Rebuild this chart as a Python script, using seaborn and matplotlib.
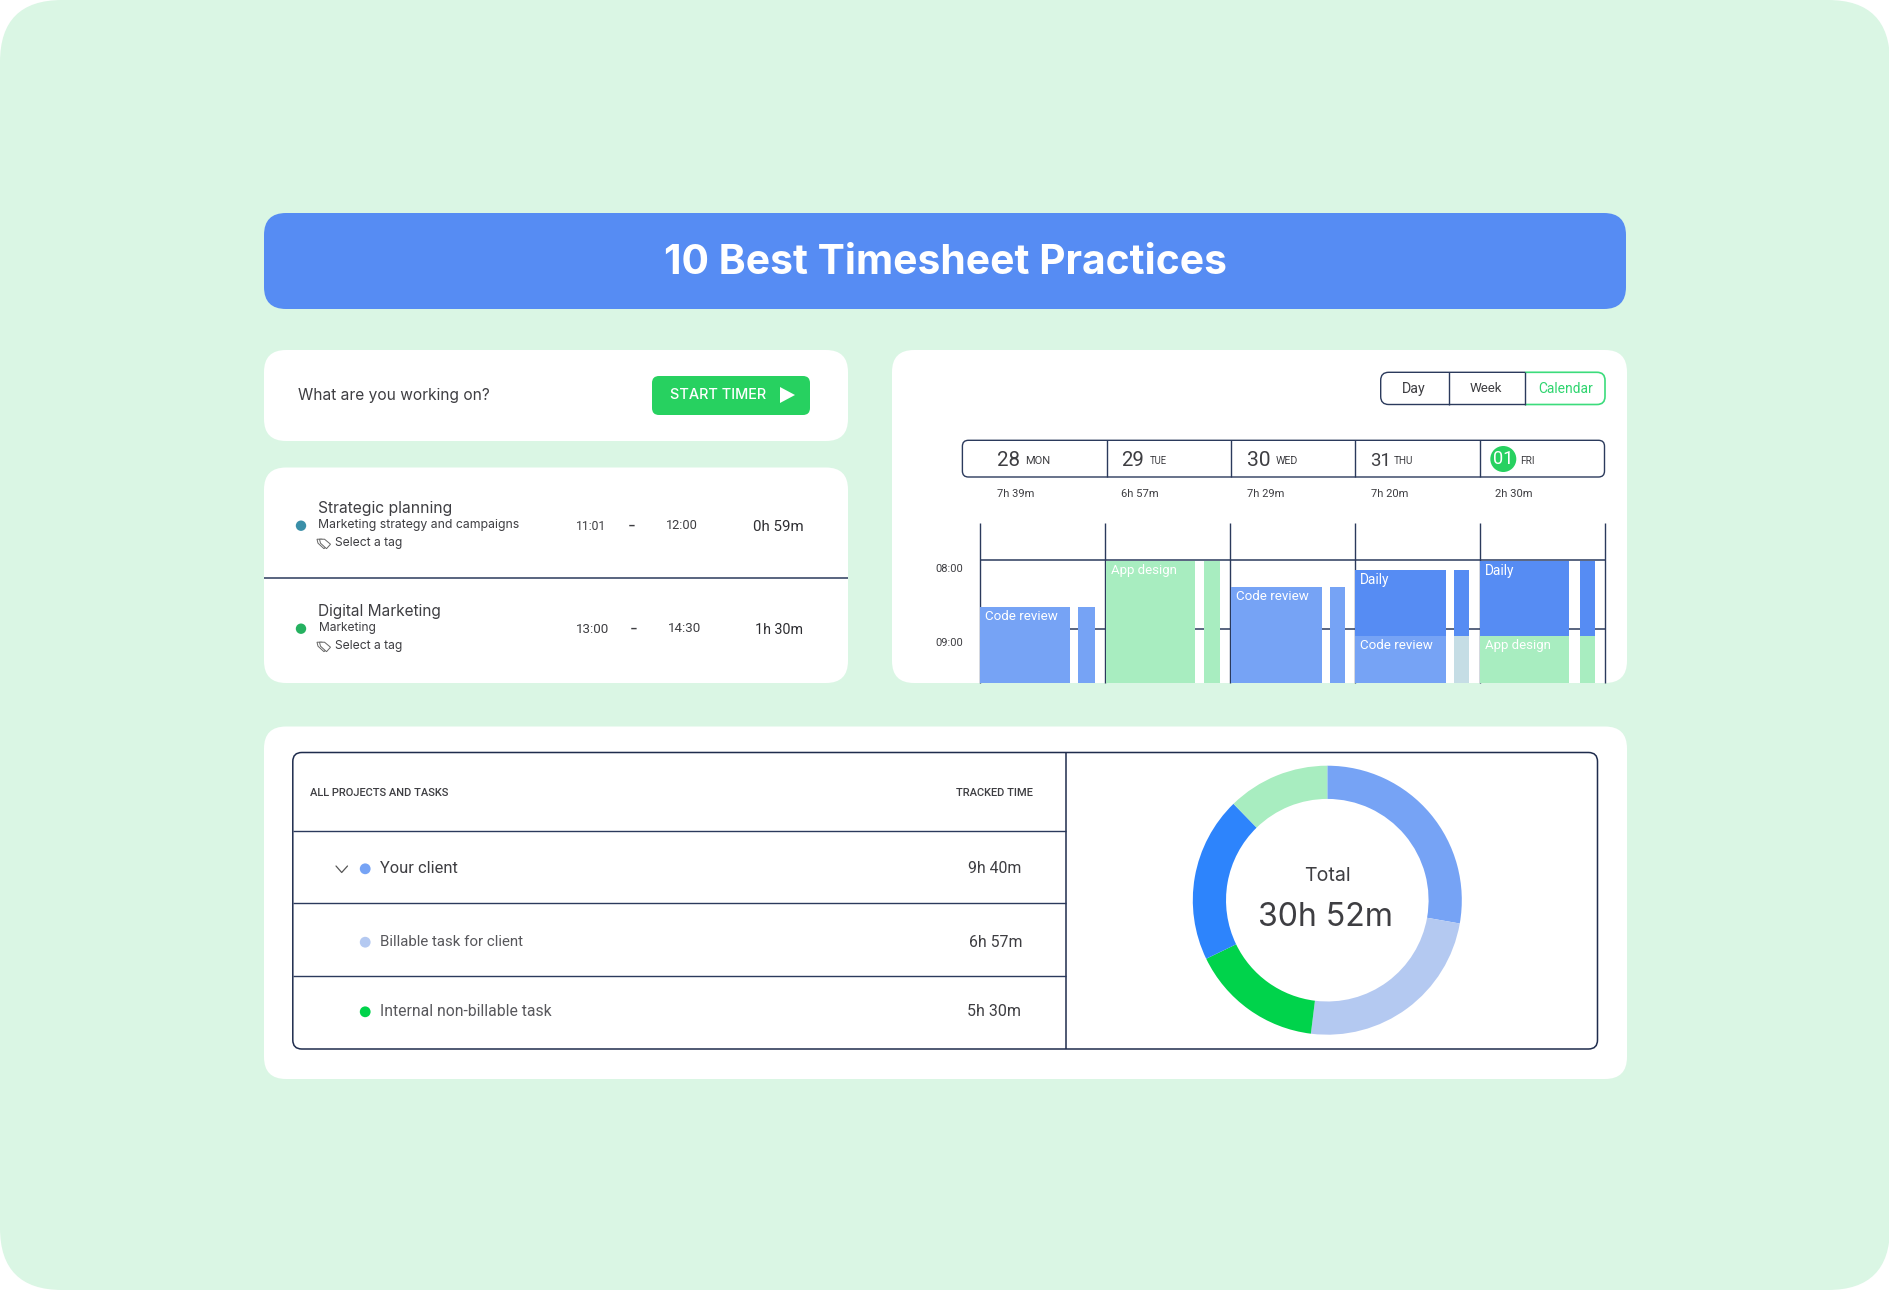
"""Timesheet practices dashboard, rebuilt with seaborn and matplotlib."""

# Imports
import matplotlib
matplotlib.use('Agg')
import matplotlib.pyplot as plt
from matplotlib.font_manager import FontProperties
from matplotlib.patches import Circle, FancyBboxPatch, Polygon, Rectangle
from matplotlib.textpath import TextPath
import seaborn as sns

# Data
TITLE = '10 Best Timesheet Practices'

entry_titles = ['Strategic planning', 'Digital Marketing']
entry_projects = ['Marketing strategy and campaigns', 'Marketing']
entry_starts = ['11:01', '13:00']
entry_ends = ['12:00', '14:30']
entry_totals = ['0h 59m', '1h 30m']

view_tabs = ['Day', 'Week', 'Calendar']
day_numbers = ['28', '29', '30', '31', '01']
day_names = ['MON', 'TUE', 'WED', 'THU', 'FRI']
day_totals = ['7h 39m', '6h 57m', '7h 29m', '7h 20m', '2h 30m']
hour_values = [8, 9]
hour_labels = ['08:00', '09:00']

# Calendar blocks, times in decimal hours (the card cuts them off at 9.78)
block_days = [0, 1, 2, 3, 3, 4, 4]
block_tasks = ['Code review', 'App design', 'Code review', 'Daily',
               'Code review', 'Daily', 'App design']
block_starts = [8.68, 8.01, 8.39, 8.14, 9.10, 8.01, 9.10]
block_ends = [9.78, 9.78, 9.78, 9.10, 9.78, 9.10, 9.78]
block_side_colors = ['#76A3F5', '#A8EDC0', '#76A3F5', '#568CF3',
                     '#C5DDE5', '#568CF3', '#A8EDC0']
task_colors = {'Code review': '#76A3F5', 'App design': '#A8EDC0', 'Daily': '#568CF3'}

# Column layout of the blocks, in fractions of a day column
main_offsets = [0.0, 0.005, 0.005, 0.0, 0.0]
main_widths = [0.72, 0.715, 0.732, 0.73, 0.715]
side_offsets = [0.785, 0.792, 0.804, 0.797, 0.80]
side_widths = [0.135, 0.13, 0.118, 0.12, 0.12]

table_headers = ['ALL PROJECTS AND TASKS', 'TRACKED TIME']
table_rows = ['Your client', 'Billable task for client', 'Internal non-billable task']
table_times = ['9h 40m', '6h 57m', '5h 30m']
table_colors = ['#76A3F5', '#B4C9F1', '#00D34B']

donut_shares = [27.8, 24.2, 15.9, 19.9, 12.3]
donut_colors = ['#76A3F5', '#B4C9F1', '#00D34B', '#2D84FC', '#A8EDC0']
donut_title = 'Total'
donut_total = '30h 52m'

# Environment settings
W, H = 1890, 1290
sns.set_theme(style='white')
plt.rcParams['font.family'] = ['Inter', 'DejaVu Sans']

BG = '#DAF6E4'
BLUE = '#568CF3'
GREEN = '#27D160'
NAVY = '#2B3A5C'
TEXT = '#3E3E42'
NARROW = 'Roboto'


# Functions
def sub_axes(fig, x0, y0, x1, y1):
    ax = fig.add_axes([x0 / W, 1 - y1 / H, (x1 - x0) / W, (y1 - y0) / H])
    ax.patch.set_alpha(0)
    return ax


def rounded(ax, x0, y0, x1, y1, r, fc='white', ec='none', lw=0, clip=None):
    patch = FancyBboxPatch((x0, y0), x1 - x0, y1 - y0,
                           boxstyle=f'round,pad=0,rounding_size={r}',
                           fc=fc, ec=ec, lw=lw)
    ax.add_patch(patch)
    if clip is not None:
        cx0, cx1 = clip
        patch.set_clip_path(Rectangle((cx0, y0 - 5), cx1 - cx0, y1 - y0 + 10,
                                      transform=ax.transData))
    return patch


def fit_size(s, width, weight='normal', family='Inter'):
    # Font size that makes the string about width pixels wide
    prop = FontProperties(family=family, weight=weight)
    ref = TextPath((0, 0), s, size=10, prop=prop).get_extents().width
    return 0.985 * 10 * width / (ref * 100 / 72)


def put(ax, x, y, s, width, color=TEXT, weight='normal', ha='left', family='Inter'):
    ax.text(x, y + 1, s, fontsize=fit_size(s, width, weight, family), color=color,
            weight=weight, ha=ha, va='center', family=[family, 'DejaVu Sans'])


def hline(ax, x0, x1, y, color=NAVY, lw=1.0):
    ax.plot([x0, x1], [y, y], color=color, lw=lw, solid_capstyle='butt')


def vline(ax, x, y0, y1, color=NAVY, lw=1.0):
    ax.plot([x, x], [y0, y1], color=color, lw=lw, solid_capstyle='butt')


def dot(ax, x, y, r, color):
    ax.add_patch(Circle((x, y), r, fc=color, ec='none'))


def tag_icon(ax, x, y):
    for dx in (0, 2.5):
        pts = [(x - 6 + dx, y - 4), (x - 1 + dx, y - 4), (x + 5 + dx, y + 1),
               (x + 1 + dx, y + 5.5), (x - 5 + dx, y)]
        ax.add_patch(Polygon(pts, closed=True, fc='white', ec='#666666', lw=0.7))


# Create figure and pixel space backdrop
fig = plt.figure(figsize=(W / 100, H / 100), dpi=100, facecolor='white')
base = fig.add_axes([0, 0, 1, 1])
base.set_xlim(0, W)
base.set_ylim(H, 0)
base.axis('off')

rounded(base, 0, 0, W, H, 62, fc=BG)
rounded(base, 264, 213, 1626, 309, 22, fc=BLUE)
put(base, 664, 262.5, TITLE, 568, color='white', weight='bold')

# Cards
rounded(base, 264, 350, 848, 441, 22)
rounded(base, 264, 467.5, 848, 683, 22)
rounded(base, 892, 350, 1627, 683, 22)
rounded(base, 264, 726.5, 1627, 1079, 22)

# Timer card
put(base, 298, 394.5, 'What are you working on?', 193)
rounded(base, 652, 376, 810, 415, 7, fc=GREEN)
put(base, 669.5, 394, 'START TIMER', 97, color='white', weight='medium')
base.add_patch(Polygon([(780, 387), (795, 395), (780, 403)], fc='white', ec='none'))

# Time entries
entry_ys = [525.7, 628.7]
entry_dots = ['#3A8FA8', '#25B160']
entry_total_w = [49.7, 46.3]
hline(base, 264, 848, 578, lw=1.1)
for i, y in enumerate(entry_ys):
    dot(base, 301, y, 5.2, entry_dots[i])
    put(base, 317.5, y - 18.5, entry_titles[i], [134, 122.5][i])
    put(base, 318.5, y - 1.5, entry_projects[i], [202, 56][i])
    tag_icon(base, 323, y + 17.5)
    put(base, 335, y + 16.5, 'Select a tag', 67)
    put(base, 575.5, y, entry_starts[i], [27, 32][i], family=NARROW)
    put(base, 632 + i * 1.5, y, '-', 5.5, ha='center')
    put(base, 665.7 + i * 2, y - 1, entry_ends[i], [30.6, 31.8][i], family=NARROW)
    put(base, 803.4, y, entry_totals[i], entry_total_w[i], ha='right', color='#2E2E32', family=NARROW)

# View switch
tab_xs = [1413.7, 1486, 1565.4]
tab_w = [22.8, 32.5, 55]
rounded(base, 1380.7, 372.3, 1560, 404.5, 8, ec=NAVY, lw=1.0, clip=(1370, 1524.7))
rounded(base, 1490, 372.3, 1605, 404.5, 8, ec='#3CDC7C', lw=1.2, clip=(1524.7, 1615))
vline(base, 1448.6, 372.3, 404.5)
vline(base, 1524.7, 372.3, 404.5)
for i, tab in enumerate(view_tabs):
    put(base, tab_xs[i], 387.7, tab, tab_w[i], ha='center', family=NARROW,
        color='#2FD56F' if tab == 'Calendar' else TEXT)

# Date strip
rounded(base, 962.4, 440.3, 1604.5, 477, 6, ec=NAVY, lw=1.0)
for x in [1106.5, 1231, 1355, 1479.5]:
    vline(base, x, 440.3, 477, lw=1.0)
num_xs = [996.8, 1121, 1246.5, 1370.5]
num_w = [21.3, 21, 21.8, 16.5]
name_xs = [1025, 1150, 1275.5, 1393.8, 1520.3]
name_w = [23.7, 17, 21.8, 19, 13]
total_xs = [997.3, 1121.4, 1247, 1371, 1495]
for i in range(5):
    if i < 4:
        put(base, num_xs[i], 459.5, day_numbers[i], num_w[i], family=NARROW)
    else:
        dot(base, 1503.3, 459, 13, GREEN)
        put(base, 1503.3, 458, day_numbers[i], 16, color='white', ha='center', family=NARROW)
    put(base, name_xs[i], 459.5, day_names[i], name_w[i], family=NARROW)
    put(base, total_xs[i], 493, day_totals[i], 37, family=NARROW)

# Calendar
cal = sub_axes(fig, 980.2, 523, 1604.7, 683)
cal.set_zorder(2)
cal.hlines(hour_values, 0, 5, color=NAVY, lw=1.1, zorder=1, clip_on=False)
cal.vlines(range(6), 7.466, 9.78, color=NAVY, lw=1.0, zorder=1, clip_on=False)
for d, task, start, end, side in zip(block_days, block_tasks, block_starts,
                                     block_ends, block_side_colors):
    left = d + main_offsets[d]
    sns.barplot(x=[left + main_widths[d] / 2], y=[end - start], bottom=start,
                width=main_widths[d], native_scale=True, color=task_colors[task],
                saturation=1, errorbar=None, linewidth=0, ax=cal, zorder=2)
    sns.barplot(x=[d + side_offsets[d] + side_widths[d] / 2], y=[end - start], bottom=start,
                width=side_widths[d], native_scale=True, color=side,
                saturation=1, errorbar=None, linewidth=0, ax=cal, zorder=2)
    size = fit_size(task, {'Code review': 73, 'App design': 66.4, 'Daily': 28.6}[task], family=NARROW)
    cal.annotate(task, (left, start), xytext=(3.8, -7.2), textcoords='offset points',
                 color='white', va='center', ha='left', zorder=3, fontsize=size,
                 family=[NARROW, 'DejaVu Sans'])
cal.set_xlim(0, 5)
cal.set_ylim(9.78, 7.466)
cal.axis('off')

for y, label in zip([567.5, 642.5], hour_labels):
    put(base, 935.7, y, label, 27, family=NARROW)

# Project table
rounded(base, 292.8, 752.5, 1597.5, 1049, 9, ec='#1F2C4D', lw=1.1)
vline(base, 1066.2, 752.5, 1049, color='#1F2C4D', lw=1.1)
for y in [831, 902.5, 976]:
    hline(base, 292.8, 1066.2, y, lw=1.0)
put(base, 310, 792.5, table_headers[0], 141, family=NARROW, weight='medium')
put(base, 956.5, 792.5, table_headers[1], 78.5, family=NARROW, weight='medium')

row_ys = [869.3, 942.7, 1012.3]
row_text_w = [78.5, 143.9, 172]
row_time_x = [1021.3, 1022.9, 1020.8]
row_colors = [TEXT, '#58585C', '#58585C']
for i, y in enumerate(row_ys):
    dot(base, 365.2, y - 0.5, 5.4, table_colors[i])
    put(base, 380.3, y - 1.5, table_rows[i], row_text_w[i], color=row_colors[i], family=NARROW)
    put(base, row_time_x[i], y - 1.5, table_times[i], 52.2, ha='right', family=NARROW)
base.plot([336, 341.7, 347.5], [866, 872.5, 866], color='#555555', lw=0.9)

# Donut
donut = sub_axes(fig, 1192.8, 765.7, 1461.8, 1034.7)
donut.pie(donut_shares, colors=donut_colors, startangle=90, counterclock=False,
          radius=1, wedgeprops={'width': 0.247, 'linewidth': 0})
donut.set_xlim(-1, 1)
donut.set_ylim(-1, 1)
put(base, 1327.5, 875, donut_title, 44.8, ha='center')
put(base, 1326, 917, donut_total, 133, ha='center')

# Save
fig.savefig('out.png', dpi=100, facecolor='white')
